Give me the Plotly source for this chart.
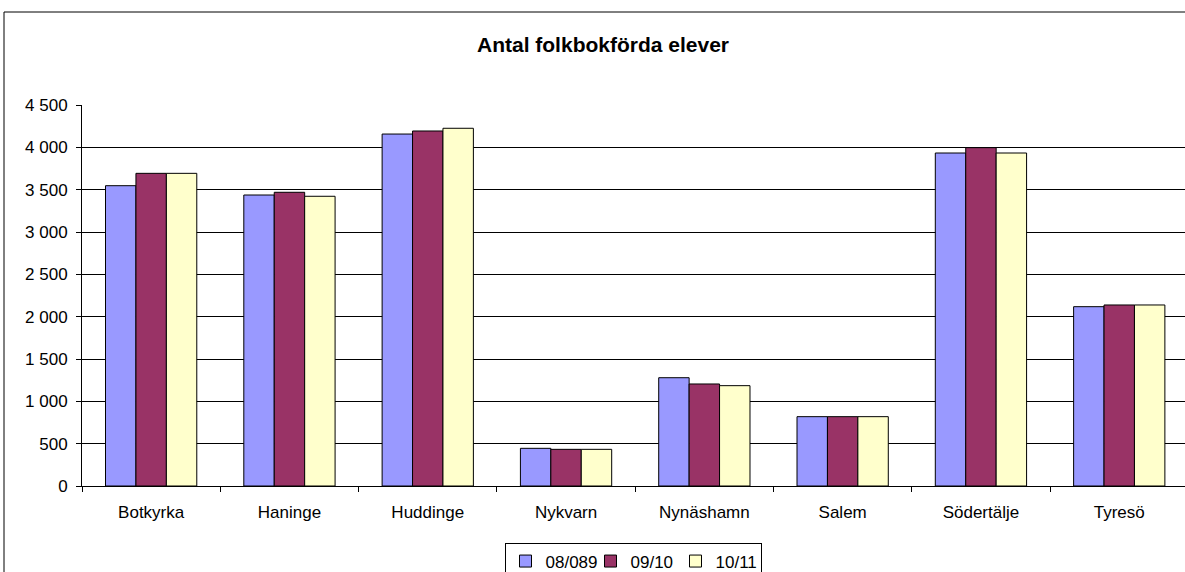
import plotly.graph_objects as go

categories = ["Botkyrka", "Haninge", "Huddinge", "Nykvarn", "Nynäshamn", "Salem", "Södertälje", "Tyresö"]
series_names = ["08/089", "09/10", "10/11"]
s0809 = [3547, 3437, 4157, 445, 1279, 819, 3933, 2118]
s0910 = [3693, 3469, 4193, 433, 1205, 819, 3996, 2138]
s1011 = [3693, 3422, 4225, 433, 1185, 819, 3933, 2138]
y_ticks = [0, 500, 1000, 1500, 2000, 2500, 3000, 3500, 4000, 4500]

colors = ["#9999FF", "#993366", "#FFFFCC"]
W, H = 1185, 572
L, T = 82, 105
Y0_PX = 486              # pixel row of value 0
plot_w = W - L
paper_h = H - T          # bottom margin 0
cat_px = 138.3

fig = go.Figure()
for name, vals, col in zip(series_names, [s0809, s0910, s1011], colors):
    fig.add_trace(go.Bar(
        x=categories, y=vals, name=name,
        marker=dict(color=col, line=dict(color="#000000", width=1)),
    ))

font_family = "Arial, Liberation Sans, sans-serif"
fig.update_layout(
    width=W, height=H,
    margin=dict(l=L, r=0, t=T, b=0, autoexpand=False),
    paper_bgcolor="white", plot_bgcolor="white",
    barmode="group", bargap=0.34, bargroupgap=0,
    separators=", ",
    font=dict(family=font_family, size=17, color="#000000"),
    title=dict(text="<b>Antal folkbokförda elever</b>", x=603 / W, xref="container",
               xanchor="center", y=1 - 45 / H, yanchor="middle",
               font=dict(family=font_family, size=21, color="#000000")),
    showlegend=True,
    legend=dict(orientation="h", x=(633 - L) / plot_w, xanchor="center",
                y=(H - 542.5) / paper_h, yanchor="top",
                bordercolor="#000000", borderwidth=1, bgcolor="white",
                font=dict(family=font_family, size=17), itemwidth=30,
                entrywidth=40, entrywidthmode="pixels",
                traceorder="normal"),
    xaxis=dict(type="category", range=[-0.5, -0.5 + plot_w / cat_px],
               showline=True, linecolor="#000000", linewidth=1,
               ticks="outside", tickson="boundaries", ticklen=5, tickcolor="#000000",
               ticklabelstandoff=11, automargin=False,
               showgrid=False, tickfont=dict(size=17)),
    yaxis=dict(range=[0, 4500], tickvals=y_ticks, tickformat=",",
               domain=[(H - Y0_PX) / paper_h, 1],
               showline=True, linecolor="#000000", linewidth=1,
               ticks="outside", ticklen=5, tickcolor="#000000",
               ticklabelstandoff=5, automargin=False,
               showgrid=True, gridcolor="#000000", gridwidth=1,
               zeroline=False, tickfont=dict(size=17)),
    shapes=[dict(type="rect", xref="paper", yref="paper",
                 x0=(4 - L) / plot_w, x1=(W + 20 - L) / plot_w,
                 y0=-0.1, y1=(H - 12) / paper_h,
                 line=dict(color="#000000", width=1), fillcolor="rgba(0,0,0,0)",
                 layer="above")],
)

fig.write_html("out.html", config={"displayModeBar": False},
               post_script="document.body.style.margin='0px'; document.body.style.overflow='hidden';")
